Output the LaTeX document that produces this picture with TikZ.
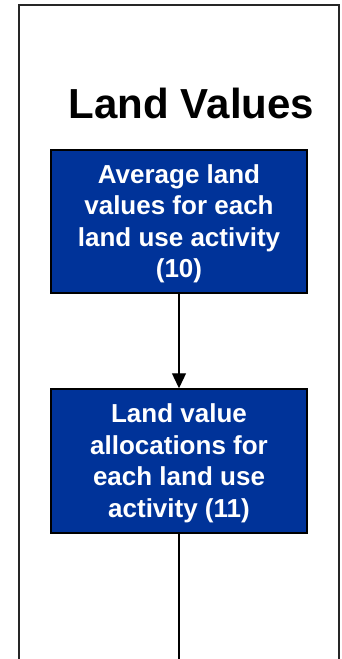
\documentclass[tikz,border=0pt]{standalone}
\usepackage{fontspec}
\setmainfont{Liberation Sans}
\usetikzlibrary{arrows.meta}
\definecolor{boxblue}{RGB}{0,51,153}
\newcommand{\toppad}{\rule{0pt}{23.5pt}}
\begin{document}
\begin{tikzpicture}[x=1pt,y=1pt,
  flowbox/.style={draw=black, line width=1.5pt, fill=boxblue, text=white,
    minimum width=256pt, inner sep=0pt, align=center,
    font=\bfseries\fontsize{26}{31.4}\selectfont},
  conn/.style={line width=1.3pt, draw=black},
  frameline/.style={line width=1.4pt, draw=black!85}]
\useasboundingbox (0,0) rectangle (342,-659);
\draw[frameline] (19,-5) rectangle (339,-720);
\node[font=\bfseries\fontsize{42}{48}\selectfont, anchor=base] (title) at (191.5,-118) {Land Values};
\node[flowbox, minimum height=143pt] (avg) at (179,-221.5)
  {\toppad Average land\\values for each\\land use activity\\(10)};
\node[flowbox, minimum height=144pt] (alloc) at (179,-461)
  {\toppad Land value\\allocations for\\each land use\\activity (11)};
\coordinate (bottom) at (179,-720);
\draw[conn, -{Triangle[width=14pt,length=15pt]}] (avg.south) -- (alloc.north);
\draw[conn] (alloc.south) -- (bottom);
\end{tikzpicture}
\end{document}
